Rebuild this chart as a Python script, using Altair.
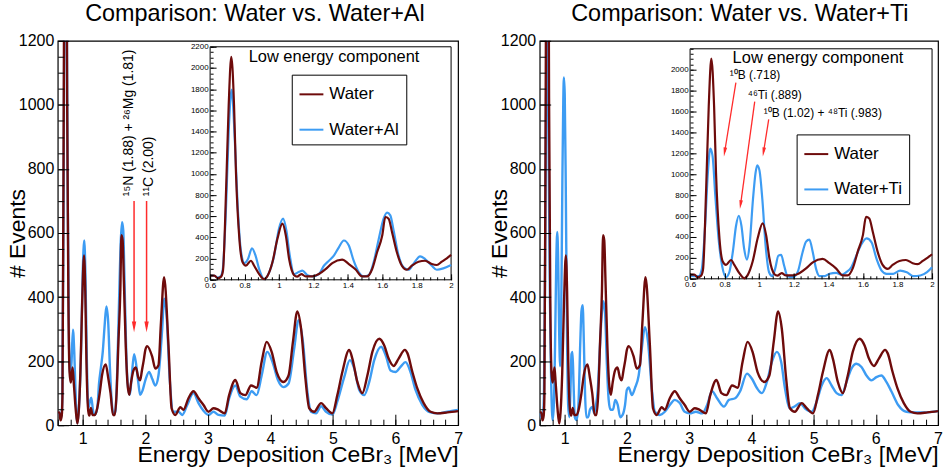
import altair as alt
import pandas as pd

FONT = "Liberation Sans"
RED = "#6e0b0b"
BLUE = "#3d9cf3"
ARROW = "#ff2b2b"
HEAD = "M-0.4,-1L0.4,-1L0,1Z"  # narrow arrowhead pointing down

# ---- spectra: energy deposited in CeBr3 (MeV) and event counts ----
water_e = [0.600, 0.625, 0.644, 0.664, 0.675, 0.693, 0.708, 0.723, 0.739, 0.750,
           0.770, 0.789, 0.808, 0.837, 0.856, 0.885, 0.914, 0.934, 0.962, 0.991,
           1.020, 1.040, 1.059, 1.088, 1.105, 1.130, 1.155, 1.194, 1.232, 1.271,
           1.310, 1.367, 1.406, 1.444, 1.483, 1.512, 1.541, 1.570, 1.600, 1.618,
           1.637, 1.657, 1.685, 1.714, 1.743, 1.772, 1.811, 1.849, 1.888, 1.917,
           1.946, 1.975, 2.000, 2.030, 2.110, 2.160, 2.210, 2.250, 2.300, 2.370,
           2.420, 2.480, 2.560, 2.610, 2.690, 2.770, 2.850, 2.930, 3.010, 3.090,
           3.170, 3.270, 3.340, 3.440, 3.520, 3.600, 3.690, 3.780, 3.860, 3.940,
           4.020, 4.100, 4.210, 4.290, 4.360, 4.430, 4.490, 4.560, 4.620, 4.700,
           4.810, 4.890, 4.990, 5.070, 5.150, 5.260, 5.310, 5.390, 5.470, 5.550,
           5.630, 5.740, 5.820, 5.890, 5.970, 6.050, 6.150, 6.190, 6.270, 6.350,
           6.450, 6.560, 6.670, 6.830, 7.000]
water_n = [40, 40, 15, 30, 90, 860, 1650, 2105, 1650, 1020,
           387, 165, 133, 180, 133, 54, 5, 38, 165, 387,
           530, 418, 196, 44, 30, 54, 32, 32, 54, 100,
           158, 190, 149, 100, 32, 32, 100, 260, 418, 593,
           577, 450, 260, 133, 95, 133, 171, 180, 149, 140,
           171, 203, 235, 247, 214, 177, 187, 320, 462, 250,
           53, 32, 56, 48, 84, 106, 84, 63, 42, 53,
           48, 37, 94, 141, 100, 94, 124, 117, 198, 260,
           229, 166, 135, 155, 260, 355, 301, 145, 53, 42,
           69, 53, 37, 94, 166, 235, 208, 135, 100, 155,
           229, 270, 249, 208, 185, 208, 235, 225, 166, 114,
           69, 42, 37, 40, 44]

al_e = [0.600, 0.625, 0.644, 0.664, 0.673, 0.693, 0.708, 0.725, 0.743, 0.760,
        0.780, 0.800, 0.820, 0.843, 0.864, 0.885, 0.914, 0.943, 0.972, 1.000,
        1.024, 1.043, 1.063, 1.088, 1.117, 1.136, 1.165, 1.194, 1.232, 1.261,
        1.290, 1.319, 1.348, 1.377, 1.406, 1.434, 1.464, 1.493, 1.522, 1.550,
        1.580, 1.608, 1.628, 1.647, 1.666, 1.695, 1.724, 1.753, 1.781, 1.820,
        1.849, 1.888, 1.917, 1.955, 2.000, 2.060, 2.110, 2.160, 2.210, 2.270,
        2.300, 2.340, 2.390, 2.450, 2.530, 2.590, 2.670, 2.770, 2.850, 2.930,
        3.010, 3.090, 3.170, 3.270, 3.340, 3.440, 3.520, 3.620, 3.700, 3.780,
        3.860, 3.950, 4.040, 4.120, 4.210, 4.290, 4.380, 4.450, 4.520, 4.590,
        4.650, 4.730, 4.810, 4.890, 4.990, 5.070, 5.180, 5.270, 5.340, 5.420,
        5.500, 5.580, 5.660, 5.770, 5.850, 5.920, 6.000, 6.080, 6.160, 6.240,
        6.320, 6.430, 6.560, 6.670, 6.830, 7.000]
al_n = [40, 38, 20, 40, 90, 704, 1400, 1797, 1338, 704,
        260, 158, 196, 298, 228, 100, 6, 70, 228, 482,
        577, 466, 228, 54, 76, 86, 44, 32, 54, 133,
        180, 228, 307, 371, 323, 180, 70, 32, 44, 165,
        387, 577, 634, 609, 466, 228, 117, 95, 149, 222,
        196, 133, 95, 108, 140, 166, 145, 124, 155, 301,
        395, 343, 145, 42, 42, 32, 63, 100, 69, 45,
        32, 42, 32, 30, 84, 124, 89, 81, 106, 94,
        155, 229, 193, 141, 119, 130, 239, 328, 260, 106,
        42, 37, 59, 42, 33, 74, 150, 203, 177, 110,
        94, 135, 203, 245, 214, 171, 166, 182, 197, 166,
        110, 63, 40, 37, 42, 48]

ti_e = [0.600, 0.619, 0.649, 0.668, 0.687, 0.703, 0.717, 0.730, 0.746, 0.765,
        0.785, 0.808, 0.827, 0.847, 0.866, 0.882, 0.897, 0.913, 0.929, 0.944,
        0.964, 0.979, 0.989, 1.002, 1.018, 1.037, 1.057, 1.076, 1.092, 1.111,
        1.127, 1.144, 1.164, 1.193, 1.222, 1.251, 1.271, 1.290, 1.310, 1.329,
        1.349, 1.378, 1.407, 1.446, 1.475, 1.504, 1.533, 1.562, 1.592, 1.621,
        1.650, 1.679, 1.708, 1.737, 1.776, 1.815, 1.854, 1.893, 1.932, 1.971,
        2.000, 2.030, 2.080, 2.130, 2.190, 2.240, 2.290, 2.340, 2.400, 2.450,
        2.530, 2.610, 2.690, 2.770, 2.850, 2.930, 3.010, 3.110, 3.210, 3.290,
        3.370, 3.450, 3.560, 3.640, 3.740, 3.820, 3.930, 4.010, 4.090, 4.170,
        4.250, 4.330, 4.410, 4.480, 4.540, 4.620, 4.700, 4.780, 4.860, 4.970,
        5.050, 5.130, 5.210, 5.290, 5.370, 5.450, 5.530, 5.610, 5.690, 5.770,
        5.850, 5.930, 6.010, 6.090, 6.170, 6.250, 6.360, 6.490, 6.620, 6.780,
        7.000]
ti_n = [38, 25, 25, 95, 508, 1016, 1245, 1175, 794, 381,
        127, 16, 63, 254, 508, 603, 508, 286, 184, 318,
        762, 1016, 1086, 1032, 762, 318, 63, 25, 95, 222,
        229, 127, 25, 16, 63, 254, 356, 375, 254, 95,
        25, 25, 48, 57, 38, 63, 111, 222, 333, 387,
        349, 190, 79, 48, 48, 79, 63, 25, 32, 63,
        110, 118, 94, 116, 155, 239, 306, 260, 116, 42,
        32, 42, 63, 79, 69, 42, 37, 42, 37, 63,
        106, 84, 58, 79, 84, 106, 161, 145, 116, 100,
        135, 197, 229, 197, 116, 53, 59, 69, 53, 42,
        74, 124, 147, 124, 100, 94, 135, 177, 192, 182,
        155, 140, 150, 155, 135, 106, 63, 42, 40, 40,
        44]

# ---- axis extents and tick values ----
E_RANGE = [0.6, 7.0]
N_RANGE = [0, 1200]
INSET_E = [0.6, 2.0]
INSET_N = [0, 2200]
main_x_major = [1, 2, 3, 4, 5, 6, 7]
main_x_minor = [round(0.6 + 0.2 * i, 2) for i in range(33)]
main_y_major = list(range(0, 1201, 200))
main_y_minor = list(range(0, 1201, 50))
inset_x_major = [round(0.6 + 0.2 * i, 2) for i in range(8)]
inset_x_minor = [round(0.6 + 0.04 * i, 2) for i in range(36)]
inset_y_minor = list(range(0, 2201, 50))

# ---- annotations ----
al_note_text = ["¹⁵N (1.88) + ²⁶Mg (1.81)", "¹¹C (2.00)"]
al_note_e = [1.74, 2.06]
al_note_n = [715, 715]
al_arrow_e = [1.82, 2.02]
al_arrow_from = [700, 700]
al_arrow_head = [307, 307]

ti_note_text = ["¹⁰B (.718)", "⁴⁶Ti (.889)", "¹⁰B (1.02) + ⁴⁸Ti (.983)"]
ti_note_e = [0.83, 0.934, 1.026]
ti_note_n = [1952, 1762, 1590]
ti_arrow_e0 = [0.865, 0.974, 1.055]
ti_arrow_n0 = [1876, 1695, 1524]
ti_arrow_e1 = [0.800, 0.892, 1.025]
ti_arrow_n1 = [1213, 709, 1213]
ti_arrow_angle = [9.2, 7.9, 9.2]

W1, W2, H = 402, 400, 386
LEGEND_PAD = "\u00a0" * 5  # blank room on the right side of the legend box


def spectrum(e, n, name):
    return pd.DataFrame({"E": e, "N": n, "series": name})


def tick_axis(orient, values, size, shift=0, labels=False, fmt="d",
              label_size=16, pad=4, **extra):
    # ticks drawn inward: the axis is pulled inside by its own tick length
    opts = dict(orient=orient, values=values, tickSize=size, offset=-(shift + size),
                ticks=True, tickColor="black", tickWidth=1, domain=False,
                grid=False, labels=labels, zindex=1, title=None)
    if labels:
        opts.update(format=fmt, labelFont=FONT, labelFontSize=label_size,
                    labelColor="black", labelPadding=pad, labelFlush=False,
                    labelOverlap=False)
    opts.update(extra)
    return alt.Axis(**opts)


def note_text(df, xs, ys, **mark):
    return alt.Chart(df).mark_text(font=FONT, color="black", **mark).encode(
        x=alt.X("e:Q", scale=xs, axis=None),
        y=alt.Y("n:Q", scale=ys, axis=None),
        text="t:N",
    )


def arrows(df, xs, ys, width, head_size):
    shaft = alt.Chart(df).mark_rule(color=ARROW, strokeWidth=width).encode(
        x=alt.X("e0:Q", scale=xs, axis=None), x2=alt.X2("e1"),
        y=alt.Y("n0:Q", scale=ys, axis=None), y2=alt.Y2("n1"),
    )
    head = alt.Chart(df).mark_point(shape=HEAD, filled=True, size=head_size,
                                    color=ARROW, opacity=1, strokeWidth=0).encode(
        x=alt.X("e1:Q", scale=xs, axis=None),
        y=alt.Y("n1:Q", scale=ys, axis=None),
        angle=alt.Angle("a:Q", scale=None),
    )
    return alt.layer(shaft, head)


def panel(other, other_name, title, title_dx, width, inset_x, inset_y, legend_xy,
          inset_y_major, inset_title_pos, main_notes, inset_notes):
    water = spectrum(water_e, water_n, "Water")
    xs = alt.Scale(domain=E_RANGE, nice=False, zero=False)
    ys = alt.Scale(domain=N_RANGE, nice=False, zero=False)
    legend = alt.Legend(orient="none", legendX=legend_xy[0], legendY=legend_xy[1],
                        title=None, fillColor="white", strokeColor="black",
                        padding=6.75, rowPadding=14.5, symbolType="stroke",
                        symbolSize=576, symbolStrokeWidth=2, labelFont=FONT,
                        labelFontSize=17, labelColor="black", labelOffset=5,
                        labelExpr="datum.label + '%s'" % LEGEND_PAD)
    color = alt.Color("series:N", legend=legend,
                      scale=alt.Scale(domain=["Water", other_name], range=[RED, BLUE]))

    x_major = tick_axis("bottom", main_x_major, 11, labels=True, pad=5,
                        title="Energy Deposition CeBr₃ [MeV]", titleFont=FONT,
                        titleFontSize=23, titleFontWeight="normal", titleColor="black",
                        titleAnchor="end", titleBaseline="alphabetic", titleY=47)
    y_major = tick_axis("left", main_y_major, 11, labels=True, pad=4,
                        title="# Events", titleFont=FONT, titleFontSize=23,
                        titleFontWeight="normal", titleColor="black", titleX=-51,
                        titleY=H / 2, titleAngle=270, titleBaseline="middle",
                        titleAlign="center")
    x_minor = tick_axis("bottom", main_x_minor, 6)
    y_minor = tick_axis("left", main_y_minor, 6)

    line = dict(strokeWidth=2.4, interpolate="monotone", strokeJoin="round")
    main_other = alt.Chart(other).mark_line(clip=True, **line).encode(
        x=alt.X("E:Q", scale=xs, axis=x_minor),
        y=alt.Y("N:Q", scale=ys, axis=y_minor),
        color=color,
    )
    main_water = alt.Chart(water).mark_line(clip=True, **line).encode(
        x=alt.X("E:Q", scale=xs, axis=x_major),
        y=alt.Y("N:Q", scale=ys, axis=y_major),
        color=color,
    )
    main_layers = [main_other, main_water]
    if main_notes is not None:
        txt, arr = main_notes
        main_layers.append(note_text(txt, xs, ys, angle=270, align="left",
                                     baseline="middle", fontSize=14))
        main_layers.append(arrows(arr, xs, ys, 1.5, 121))
    main_group = alt.layer(*main_layers).resolve_axis(x="independent", y="independent")

    # inset: same spectra restricted to the low energy range
    ixs = alt.Scale(domain=INSET_E, range=inset_x, nice=False, zero=False)
    iys = alt.Scale(domain=INSET_N, range=inset_y, nice=False, zero=False)
    sx = H - inset_y[0]
    sy = inset_x[0]
    ix_major = tick_axis("bottom", inset_x_major, 6, shift=sx, labels=True,
                         fmt="~g", label_size=8, pad=2)
    iy_major = tick_axis("left", inset_y_major, 6, shift=sy, labels=True,
                         label_size=8, pad=2)
    ix_minor = tick_axis("bottom", inset_x_minor, 3, shift=sx)
    iy_minor = tick_axis("left", inset_y_minor, 3, shift=sy)

    box = pd.DataFrame({"e0": [INSET_E[0]], "e1": [INSET_E[1]],
                        "n0": [INSET_N[0]], "n1": [INSET_N[1]]})
    inset_frame = alt.Chart(box).mark_rect(fill="white", stroke="black",
                                           strokeWidth=1).encode(
        x=alt.X("e0:Q", scale=ixs, axis=ix_major), x2=alt.X2("e1"),
        y=alt.Y("n0:Q", scale=iys, axis=iy_major), y2=alt.Y2("n1"),
    )
    low = "datum.E <= %s" % INSET_E[1]
    inline = dict(strokeWidth=2.2, interpolate="monotone", strokeJoin="round")
    inset_other = alt.Chart(other).transform_filter(low).mark_line(
        color=BLUE, **inline).encode(
        x=alt.X("E:Q", scale=ixs, axis=ix_minor),
        y=alt.Y("N:Q", scale=iys, axis=iy_minor),
    )
    inset_water = alt.Chart(water).transform_filter(low).mark_line(
        color=RED, **inline).encode(
        x=alt.X("E:Q", scale=ixs, axis=None),
        y=alt.Y("N:Q", scale=iys, axis=None),
    )
    heading = pd.DataFrame({"t": ["Low energy component"],
                            "e": [inset_title_pos[0]], "n": [inset_title_pos[1]]})
    inset_layers = [inset_frame, inset_other, inset_water,
                    note_text(heading, ixs, iys, fontSize=16.5, baseline="middle")]
    if inset_notes is not None:
        txt, arr = inset_notes
        inset_layers.append(note_text(txt, ixs, iys, align="left",
                                      baseline="middle", fontSize=12))
        inset_layers.append(arrows(arr, ixs, iys, 1.3, 81))
    inset_group = alt.layer(*inset_layers).resolve_axis(x="independent", y="independent")

    return alt.layer(main_group, inset_group).resolve_scale(
        x="independent", y="independent"
    ).properties(
        width=width, height=H,
        title=alt.TitleParams(title, font=FONT, fontSize=23.5, fontWeight="normal",
                              color="black", anchor="middle", frame="group",
                              baseline="alphabetic", offset=-12, dx=title_dx),
    )


al_notes = (
    pd.DataFrame({"t": al_note_text, "e": al_note_e, "n": al_note_n}),
    pd.DataFrame({"e0": al_arrow_e, "e1": al_arrow_e, "n0": al_arrow_from,
                  "n1": al_arrow_head, "a": [0, 0]}),
)
ti_notes = (
    pd.DataFrame({"t": ti_note_text, "e": ti_note_e, "n": ti_note_n}),
    pd.DataFrame({"e0": ti_arrow_e0, "e1": ti_arrow_e1, "n0": ti_arrow_n0,
                  "n1": ti_arrow_n1, "a": ti_arrow_angle}),
)

left = panel(spectrum(al_e, al_n, "Water+Al"), "Water+Al",
             "Comparison: Water vs. Water+Al", -3, W1,
             inset_x=[153, 395], inset_y=[240, 6], legend_xy=[235, 34],
             inset_y_major=list(range(0, 2201, 200)), inset_title_pos=[1.32, 2106],
             main_notes=al_notes, inset_notes=None)
right = panel(spectrum(ti_e, ti_n, "Water+Ti"), "Water+Ti",
              "Comparison: Water vs. Water+Ti", 1, W2,
              inset_x=[151, 394], inset_y=[239, 8], legend_xy=[258, 94],
              inset_y_major=list(range(0, 2001, 200)), inset_title_pos=[1.34, 2114],
              main_notes=None, inset_notes=ti_notes)

chart = alt.hconcat(left, right, spacing=82, bounds="flush").resolve_scale(
    color="independent"
).resolve_legend(
    color="independent"
).properties(
    autosize=alt.AutoSizeParams(type="pad"),
    padding={"left": 6, "top": 0, "right": 0, "bottom": 0},
).configure(
    font=FONT, background="white"
).configure_view(
    stroke="black", strokeWidth=1.2
)

chart.save("out.html", embed_options={"renderer": "svg", "actions": False})
